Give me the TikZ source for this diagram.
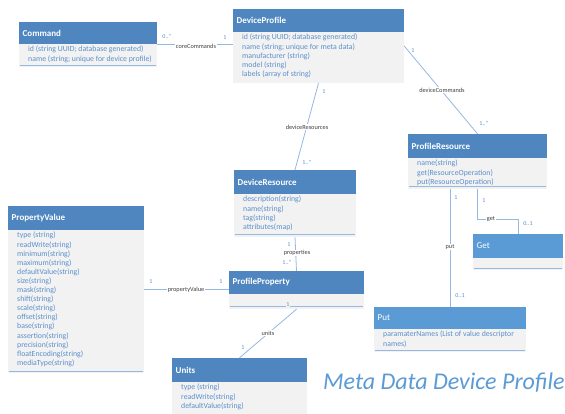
\documentclass[tikz,border=0pt]{standalone}
\usepackage{fontspec}
\setmainfont{Carlito}
\usetikzlibrary{fit}
\definecolor{hdr}{HTML}{4F86C0}
\definecolor{hdrlight}{HTML}{5B9BD5}
\definecolor{bodyfill}{HTML}{F2F2F2}
\definecolor{attrc}{HTML}{5B8FCB}
\definecolor{linec}{HTML}{95B9E0}
\definecolor{labc}{HTML}{404040}
\tikzset{
 conn/.style={draw=linec, line width=0.8pt},
 lab/.style={font=\fontsize{6.3}{6.3}\selectfont, text=labc, fill=white, inner sep=0.6pt},
 mult/.style={font=\fontsize{6}{6}\selectfont, text=attrc, inner sep=0},
 ttl/.style={font=\fontsize{9}{9}\selectfont\bfseries, text=white, anchor=west, inner sep=0},
 attrs/.style={font=\fontsize{7.8}{9.1}\selectfont, text=attrc, anchor=north west, inner sep=0, align=left},
 sepline/.style={draw=linec, line width=0.6pt},
 boxnode/.style={inner sep=0, draw=none},
}
% name, x1, y1, x2, yh, y2, header colour, title, attributes
\newcommand{\umlclass}[9]{%
 \fill[bodyfill] (#2,#5) rectangle (#4,#6);
 \fill[#7] (#2,#3) rectangle (#4,#5);
 \node[ttl] at ({#2+3.5},{(#3+#5)/2}) {#8};
 \node[attrs] at ({#2+9},{#5+2}) {#9};
 \node[boxnode, fit={(#2,#3) (#4,#6)}] (#1) {};
}
\newcommand{\sepat}[3]{\draw[sepline] ({#1+1},#3) -- ({#2-1},#3);}
\begin{document}
\begin{tikzpicture}[x=1pt,y=-1pt]
\useasboundingbox (0,0) rectangle (565,414);
\fill[white] (0,0) rectangle (565,414);

\umlclass{cmd}{19}{22}{157}{44}{67}{hdr}{Command}{id (string UUID; database generated)\\name (string; unique for device profile)}
\sepat{19}{157}{65}
\umlclass{dp}{233}{9}{404}{32}{83}{hdr}{DeviceProfile}{id (string UUID; database generated)\\name (string; unique for meta data)\\manufacturer (string)\\model (string)\\labels (array of string)}
\umlclass{pr}{408}{134}{547}{158}{189}{hdr}{ProfileResource}{name(string)\\get(ResourceOperation)\\put(ResourceOperation)}
\sepat{408}{547}{186}
\umlclass{dr}{234}{170}{356}{194}{237}{hdr}{DeviceResource}{description(string)\\name(string)\\tag(string)\\attributes(map)}
\sepat{234}{356}{234}
\umlclass{get}{473}{234}{563}{258}{270}{hdrlight}{\mdseries Get}{}
\sepat{473}{563}{268}
\umlclass{pv}{8}{206}{144}{230}{373}{hdr}{PropertyValue}{\fontsize{7.8}{8.7}\selectfont type (string)\\readWrite(string)\\minimum(string)\\maximum(string)\\defaultValue(string)\\size(string)\\mask(string)\\shift(string)\\scale(string)\\offset(string)\\base(string)\\assertion(string)\\precision(string)\\floatEncoding(string)\\mediaType(string)}
\sepat{8}{144}{371}
\umlclass{pp}{229}{271}{364}{294}{309}{hdr}{ProfileProperty}{}
\sepat{229}{364}{306}
\umlclass{put}{374}{307}{526}{329}{352}{hdrlight}{\mdseries Put}{paramaterNames (List of value descriptor\\names)}
\sepat{374}{526}{350}
\umlclass{units}{172}{358}{307}{382}{414}{hdr}{Units}{type (string)\\readWrite(string)\\defaultValue(string)}

% connectors
\draw[conn] (cmd.east) -- (cmd.east -| dp.west);
\draw[conn] (dp.east) -- (pr.north);
\draw[conn] (dp.south) -- (dr.north);
\draw[conn] (dr.south) -- (pp.north);
\draw[conn] (pv.east) -- (pv.east -| pp.west);
\draw[conn] (pp.south) -- (units.north);
\draw[conn] (put.north |- pr.south) -- (put.north);
\draw[conn] (pr.south) -- ++(0,30) -| (get.north);

% labels
\node[lab] (l1) at (196,46) {coreCommands};
\node[lab] (l2) at (442,90) {deviceCommands};
\node[lab] (l3) at (307,127) {deviceResources};
\node[lab] (l4) at (297,253) {properties};
\node[lab] (l5) at (491,219) {get};
\node[lab] (l6) at (450,247) {put};
\node[lab] (l7) at (186,290) {propertyValue};
\node[lab] (l8) at (268,333) {units};

% multiplicities
\node[mult] (m1) at (167,36) {0..*};
\node[mult] (m2) at (225,38) {1};
\node[mult] (m3) at (413,51) {1};
\node[mult] (m4) at (484,123) {1..*};
\node[mult] (m5) at (324,92) {1};
\node[mult] (m6) at (307,162) {1..*};
\node[mult] (m7) at (289,245) {1};
\node[mult] (m8) at (287,262) {1..*};
\node[mult] (m9) at (484,201) {1};
\node[mult] (m10) at (528,224) {0..1};
\node[mult] (m11) at (456,198) {1};
\node[mult] (m12) at (460,296) {0..1};
\node[mult] (m13) at (151,282) {1};
\node[mult] (m14) at (221,282) {1};
\node[mult, fill=bodyfill, inner sep=0.6pt] (m15) at (288,305) {1};
\node[mult] (m16) at (243,348) {1};

\node[font=\fontsize{24}{24}\selectfont\itshape, text=hdrlight, anchor=west, inner sep=0] (title) at (323,383) {Meta Data Device Profile};
\end{tikzpicture}
\end{document}
